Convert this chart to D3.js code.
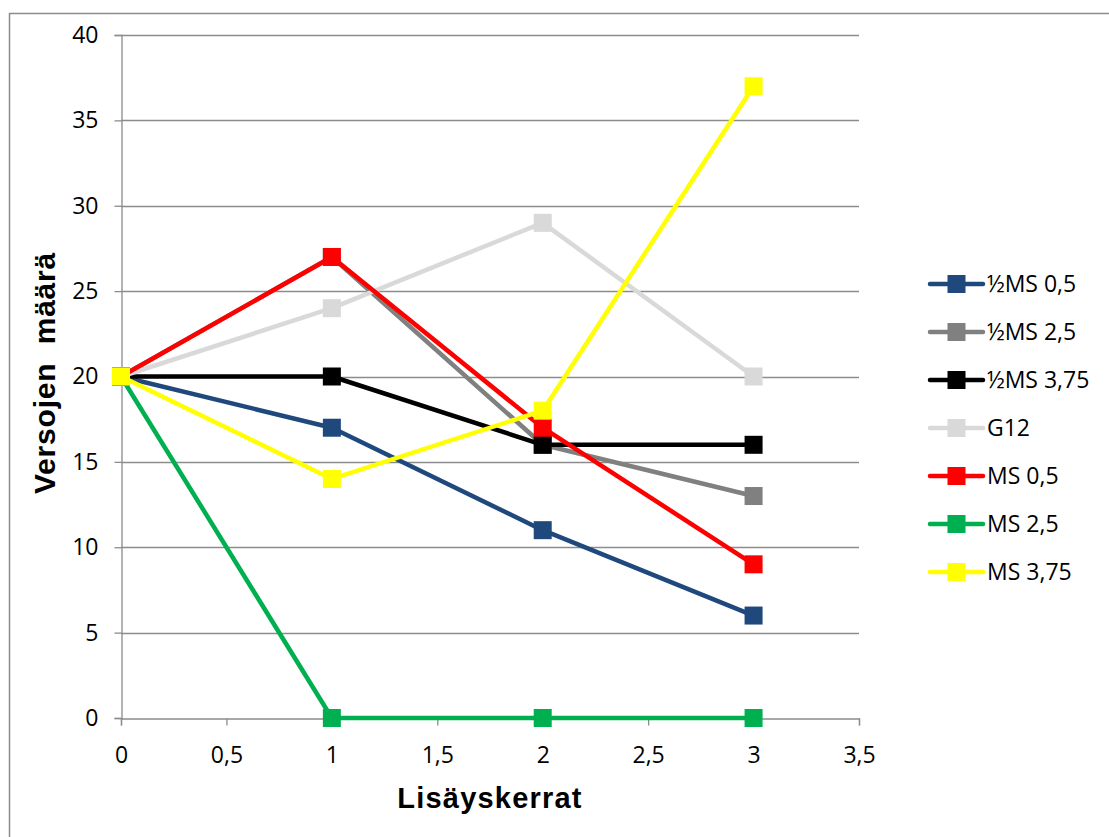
<!DOCTYPE html>
<html>
<head>
<meta charset="utf-8">
<script src="https://cdn.jsdelivr.net/npm/d3@7"></script>
<style>
  html, body { margin: 0; padding: 0; background: #fff; }
  svg { display: block; }
</style>
</head>
<body>
<svg id="chart" width="1109" height="837"></svg>
<script>
// Number of additions (x) and shoot counts per medium
const xValues = [0, 1, 2, 3];
const seriesNames = ["½MS 0,5", "½MS 2,5", "½MS 3,75", "G12", "MS 0,5", "MS 2,5", "MS 3,75"];
const halfMS05 = [20, 17, 11, 6];
const halfMS25 = [20, 27, 16, 13];
const halfMS375 = [20, 20, 16, 16];
const g12 = [20, 24, 29, 20];
const ms05 = [20, 27, 17, 9];
const ms25 = [20, 0, 0, 0];
const ms375 = [20, 14, 18, 37];
const seriesColors = ["#1f497d", "#808080", "#000000", "#d9d9d9", "#ff0000", "#00b050", "#ffff00"];
const xTicks = [0, 0.5, 1, 1.5, 2, 2.5, 3, 3.5];
const yTicks = [0, 5, 10, 15, 20, 25, 30, 35, 40];
const xTitle = "Lisäyskerrat";
const yTitle = "Versojen  määrä";

const seriesValues = [halfMS05, halfMS25, halfMS375, g12, ms05, ms25, ms375];
const series = seriesNames.map((name, i) => ({
  name, color: seriesColors[i],
  points: xValues.map((x, j) => ({ x, y: seriesValues[i][j] }))
}));

const svg = d3.select("#chart");
const font = "'Open Sans', 'DejaVu Sans', sans-serif";
const titleFont = "'Liberation Sans', Arial, sans-serif";
const plot = { left: 121, right: 859, top: 35, bottom: 718 };

const x = d3.scaleLinear().domain([0, 3.5]).range([plot.left, plot.right]);
const y = d3.scaleLinear().domain([0, 40]).range([plot.bottom, plot.top]);

// Outer chart border
svg.append("rect")
  .attr("x", 9.5).attr("y", 13.5)
  .attr("width", 1120).attr("height", 840)
  .attr("fill", "none").attr("stroke", "#8c8c8c").attr("stroke-width", 1.5);

// Horizontal gridlines
svg.append("g")
  .selectAll("line")
  .data(yTicks.filter(t => t > 0))
  .join("line")
  .attr("x1", plot.left).attr("x2", plot.right)
  .attr("y1", d => Math.round(y(d)) + 0.5).attr("y2", d => Math.round(y(d)) + 0.5)
  .attr("stroke", "#8c8c8c").attr("stroke-width", 1.3);

// Y axis
const yAxis = svg.append("g")
  .attr("transform", `translate(${plot.left + 0.5},0)`)
  .call(d3.axisLeft(y).tickValues(yTicks).tickSize(7).tickPadding(16).tickFormat(d3.format("d")));
yAxis.select(".domain").attr("stroke", "#8c8c8c").attr("stroke-width", 1.3);
yAxis.selectAll(".tick line").attr("stroke", "#8c8c8c").attr("stroke-width", 1.3);
yAxis.selectAll(".tick text").attr("font-family", font).attr("font-size", 23).attr("fill", "#000");

// X axis
const xAxis = svg.append("g")
  .attr("transform", `translate(0,${plot.bottom + 0.5})`)
  .call(d3.axisBottom(x).tickValues(xTicks).tickSize(7).tickPadding(21)
    .tickFormat(d => String(d).replace(".", ",")));
xAxis.select(".domain").attr("stroke", "#8c8c8c").attr("stroke-width", 1.3);
xAxis.selectAll(".tick line").attr("stroke", "#8c8c8c").attr("stroke-width", 1.3);
xAxis.selectAll(".tick text").attr("font-family", font).attr("font-size", 23).attr("fill", "#000");

// Axis titles
svg.append("text")
  .attr("x", 490).attr("y", 808)
  .attr("text-anchor", "middle")
  .attr("font-family", titleFont)
  .attr("font-weight", "bold").attr("font-size", 29)
  .attr("letter-spacing", 1.2)
  .text(xTitle);

svg.append("text")
  .attr("transform", "translate(55,373) rotate(-90)")
  .attr("text-anchor", "middle")
  .attr("font-family", titleFont)
  .attr("font-weight", "bold").attr("font-size", 30)
  .attr("letter-spacing", 0.8)
  .attr("xml:space", "preserve")
  .style("white-space", "pre")
  .text(yTitle);

// Series lines with square markers, drawn in series order
const line = d3.line().x(d => x(d.x)).y(d => y(d.y));
const markerSize = 18;
series.forEach(s => {
  const g = svg.append("g");
  g.append("path")
    .attr("d", line(s.points))
    .attr("fill", "none").attr("stroke", s.color)
    .attr("stroke-width", 4.5).attr("stroke-linejoin", "round").attr("stroke-linecap", "round");
  g.selectAll("rect")
    .data(s.points)
    .join("rect")
    .attr("x", d => x(d.x) - markerSize / 2)
    .attr("y", d => y(d.y) - markerSize / 2)
    .attr("width", markerSize).attr("height", markerSize)
    .attr("fill", s.color);
});

// Legend
const legend = svg.append("g").attr("transform", "translate(928,284)");
const rowGap = 48;
series.forEach((s, i) => {
  const row = legend.append("g").attr("transform", `translate(0,${i * rowGap})`);
  row.append("line")
    .attr("x1", 2).attr("x2", 55).attr("y1", 0).attr("y2", 0)
    .attr("stroke", s.color).attr("stroke-width", 4.5).attr("stroke-linecap", "round");
  row.append("rect")
    .attr("x", 28.5 - 9).attr("y", -9).attr("width", 18).attr("height", 18)
    .attr("fill", s.color);
  row.append("text")
    .attr("x", 59).attr("y", 0).attr("dy", "0.35em")
    .attr("font-family", font).attr("font-size", 23).attr("fill", "#000")
    .text(s.name);
});
</script>
</body>
</html>
